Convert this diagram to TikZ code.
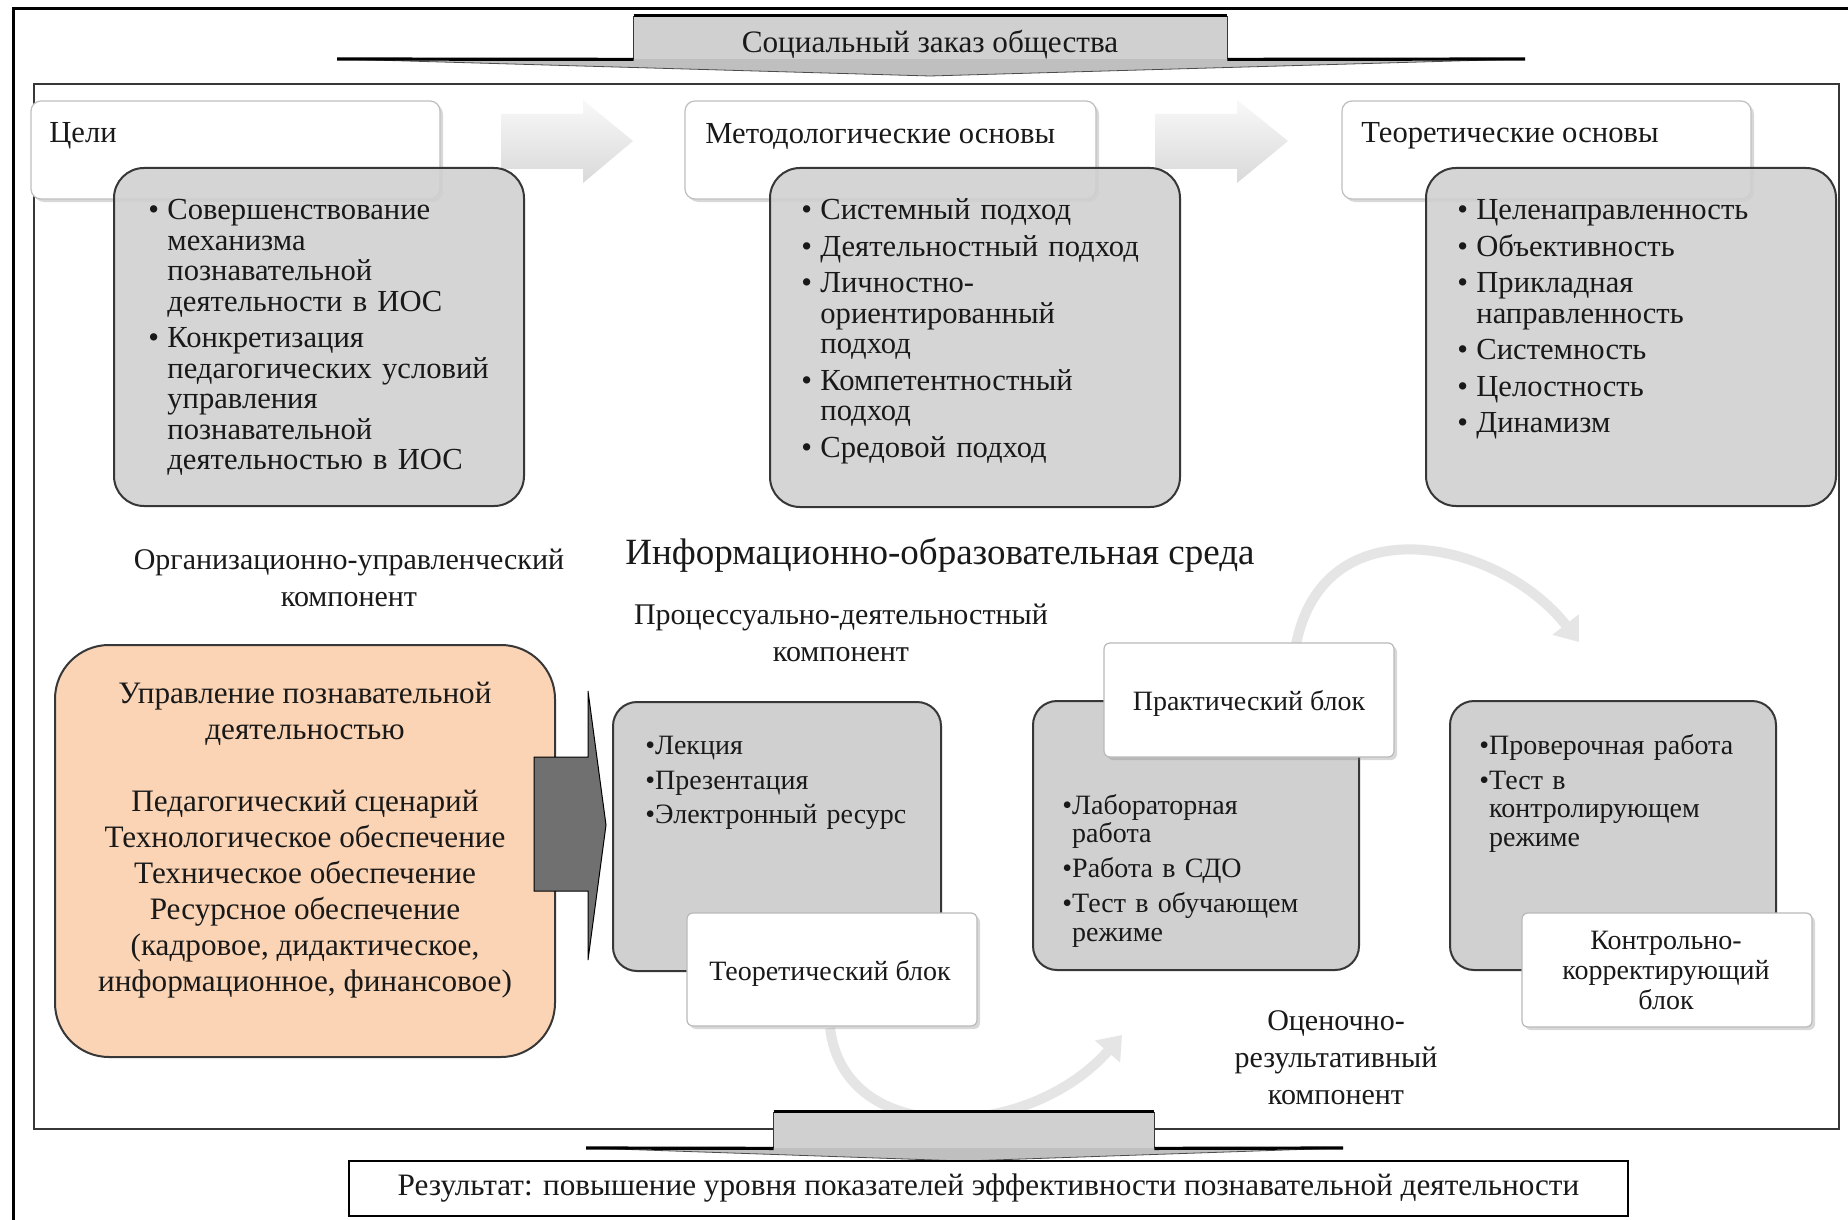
\documentclass[tikz,border=0pt]{standalone}
\usepackage{fontspec}
\setmainfont{Liberation Serif}
\usetikzlibrary{arrows.meta,shadows,fit}
\definecolor{boxgray}{RGB}{208,208,208}
\definecolor{peach}{RGB}{251,212,181}
\definecolor{darkarrow}{RGB}{112,112,112}
\definecolor{edge}{RGB}{55,55,55}
\definecolor{txt}{RGB}{25,25,25}
\newcommand{\fs}[2]{\fontsize{#1}{#2}\selectfont}
\newcommand{\tpar}[1]{\par\hangindent=9.5pt\hangafter=1\noindent\makebox[9.5pt][l]{\textbullet}#1\par}
\newcommand{\bpar}[1]{\par\setbox0\hbox{\textbullet}\hangindent=\wd0\hangafter=1\noindent\box0#1\par}
\begin{document}
\begin{tikzpicture}[x=0.5pt,y=-0.5pt,
  every node/.style={inner sep=0pt, text=txt},
  wbox/.style={draw=gray!50, line width=0.6pt, fill=white, rounded corners=5pt,
     drop shadow={shadow xshift=1.5pt, shadow yshift=-1.5pt, opacity=0.3}},
  gbox/.style={draw=edge, line width=1pt, fill=boxgray, fill opacity=0.88, rounded corners=15pt},
  bgbox/.style={draw=edge, line width=1pt, fill=boxgray, rounded corners=12pt},
  lbox/.style={draw=gray!55, line width=0.6pt, fill=white, rounded corners=3pt,
     drop shadow={shadow xshift=1.5pt, shadow yshift=-1.5pt, opacity=0.3}},
  toplist/.style={anchor=north west, text width=200pt, align=left, font=\fs{15.3}{15.25}},
  botlist/.style={anchor=north west, text width=150pt, align=left, font=\fs{14}{14.25}},
  label/.style={align=center, font=\fs{15}{18.5}},
  arcarrow/.style={draw=gray!20, line width=5pt, -{Triangle[length=11pt,width=16pt]}},
  blockarrow/.style={top color=gray!5, bottom color=gray!30}
]
% canvas
\path[fill=white] (0,0) rectangle (1848,1220);
\useasboundingbox (0,0) rectangle (1848,1220);
% outer frame (cut at right and bottom)
\draw[line width=1.5pt, black] (13,1230) -- (13,9) -- (1860,9);
% inner frame
\node[draw=edge, line width=1.2pt, fit={(34,84) (1839,1129)}] (frame) {};

% ---- top: social order ----
\fill[gray!50] (337,59) -- (1525,59) -- (930,76) -- cycle;
\draw[black!70, line width=0.4pt] (337,59) -- (930,76) -- (1525,59);
\node[fill=boxgray, fit={(634,16) (1227,59)}] (social) {};
\draw[edge, line width=0.5pt] (social.south west) -- (social.north west);
\draw[edge, line width=0.5pt] (social.south east) -- (social.north east);
\draw[black, line width=1.6pt] (social.north west) -- (social.north east);
\draw[black, line width=1.6pt] (337,59) -- (social.south west);
\draw[black, line width=1.6pt] (social.south east) -- (1525,59);
\node[font=\fs{15.6}{18}] (socialtxt) at (930,45) {Социальный заказ общества};

% ---- top row white boxes ----
\node[wbox, fit={(31,101) (440,199)}] (goalsT) {};
\node[wbox, fit={(685,101) (1096,199)}] (methT) {};
\node[wbox, fit={(1342,101) (1751,199)}] (theoT) {};
\node[anchor=west, font=\fs{15.3}{18}] (goalsTt) at (49,136) {Цели};
\node[anchor=west, font=\fs{15.3}{18}] (methTt) at (705,136) {Методологические основы};
\node[anchor=west, font=\fs{15.3}{18}] (theoTt) at (1361,136) {Теоретические основы};

% block arrows
\shade[blockarrow] (501,114) -- (583,114) -- (583,100) -- (633,141) -- (583,183) -- (583,169) -- (501,169) -- cycle;
\shade[blockarrow] (1155,114) -- (1237,114) -- (1237,100) -- (1288,141) -- (1237,183) -- (1237,169) -- (1155,169) -- cycle;

% ---- top row gray boxes ----
\node[gbox, fit={(114,168) (524,506)}] (goalsB) {};
\node[gbox, fit={(770,168) (1180,507)}] (methB) {};
\node[gbox, fit={(1426,168) (1836,506)}] (theoB) {};

\node[toplist] (goalsL) at (148,183) {\setlength{\parskip}{3pt}%
\tpar{Совершенствование\newline механизма\newline познавательной\newline деятельности в ИОС}%
\tpar{Конкретизация\newline педагогических условий\newline управления\newline познавательной\newline деятельностью в ИОС}};
\node[toplist] (methL) at (801,183) {\setlength{\parskip}{3pt}%
\tpar{Системный подход}%
\tpar{Деятельностный подход}%
\tpar{Личностно-\newline ориентированный\newline подход}%
\tpar{Компетентностный\newline подход}%
\tpar{Средовой подход}};
\node[toplist] (theoL) at (1457,183) {\setlength{\parskip}{3pt}%
\tpar{Целенаправленность}%
\tpar{Объективность}%
\tpar{Прикладная\newline направленность}%
\tpar{Системность}%
\tpar{Целостность}%
\tpar{Динамизм}};

% ---- middle labels ----
\node[label] (orgLbl) at (349,578) {Организационно-управленческий\\компонент};
\node[font=\fs{18.5}{22}] (iosLbl) at (940,555) {Информационно-образовательная среда};
\node[label] (procLbl) at (841,633) {Процессуально-деятельностный\\компонент};
\node[label] (evalLbl) at (1336,1058) {Оценочно-\\результативный\\компонент};

% ---- curved arrows ----
\coordinate (arcAs) at (1295,650);
\coordinate (arcAe) at (1579,642);
\draw[arcarrow] (arcAs) .. controls (1320,500) and (1500,540) .. (arcAe);
\coordinate (arcBs) at (830,1028);
\coordinate (arcBe) at (1122,1035);
\draw[arcarrow] (arcBs) .. controls (845,1150) and (1030,1140) .. (arcBe);

% ---- bottom: organisational box ----
\node[draw=edge, line width=1pt, fill=peach, rounded corners=27pt, fit={(55,645) (555,1057)}] (orgB) {};
\node[align=center, anchor=north, font=\fs{15.6}{18}] (orgTxt) at (305,682) {Управление познавательной\\деятельностью\\[18pt]Педагогический сценарий\\Технологическое обеспечение\\Техническое обеспечение\\Ресурсное обеспечение\\(кадровое, дидактическое,\\информационное, финансовое)};

% ---- process boxes ----
\node[bgbox, fit={(613,702) (941,971)}] (theorB) {};
\node[bgbox, fit={(1033,701) (1359,970)}] (practB) {};
\node[bgbox, fit={(1450,701) (1776,970)}] (ctrlB) {};

% dark arrow from organisational box to theoretical block
\fill[darkarrow, draw=black, line width=0.5pt] (534,757) -- (588,757) -- (588,691) -- (606,825) -- (588,960) -- (588,891) -- (534,891) -- cycle;

\node[botlist] (theorL) at (645,720) {\setlength{\parskip}{3pt}%
\bpar{Лекция}\bpar{Презентация}\bpar{Электронный ресурс}};
\node[botlist] (practL) at (1062,779) {\setlength{\parskip}{3.25pt}%
\bpar{Лабораторная\newline работа}\bpar{Работа в СДО}\bpar{Тест в обучающем\newline режиме}};
\node[botlist] (ctrlL) at (1479,720) {\setlength{\parskip}{3pt}%
\bpar{Проверочная работа}\bpar{Тест в\newline контролирующем\newline режиме}};

% white label boxes
\node[lbox, fit={(687,913) (977,1026)}] (theorT) {};
\node[font=\fs{14}{14}] (theorTt) at (830,973) {Теоретический блок};
\node[lbox, fit={(1104,643) (1394,757)}] (practT) {};
\node[font=\fs{14}{14}] (practTt) at (1249,703) {Практический блок};
\node[lbox, fit={(1522,913) (1812,1027)}] (ctrlT) {};
\node[align=center, font=\fs{14}{15}] (ctrlTt) at (1666,970) {Контрольно-\\корректирующий\\блок};

% ---- bottom: result arrow ----
\fill[gray!50] (586,1148) -- (1343,1148) -- (964,1161) -- cycle;
\draw[black!70, line width=0.4pt] (586,1148) -- (964,1161) -- (1343,1148);
\node[fill=boxgray, fit={(774,1112) (1154,1148)}] (result) {};
\draw[edge, line width=0.5pt] (result.south west) -- (result.north west);
\draw[edge, line width=0.5pt] (result.south east) -- (result.north east);
\draw[black, line width=1.6pt] (result.north west) -- (result.north east);
\draw[black, line width=1.6pt] (586,1148) -- (result.south west);
\draw[black, line width=1.6pt] (result.south east) -- (1343,1148);

\node[draw=black, line width=1pt, fill=white, fit={(349,1161) (1628,1216)}] (resBox) {};
\node[font=\fs{15.6}{18}] (resTxt) at (resBox.center) {Результат: повышение уровня показателей эффективности познавательной деятельности};
\end{tikzpicture}
\end{document}
